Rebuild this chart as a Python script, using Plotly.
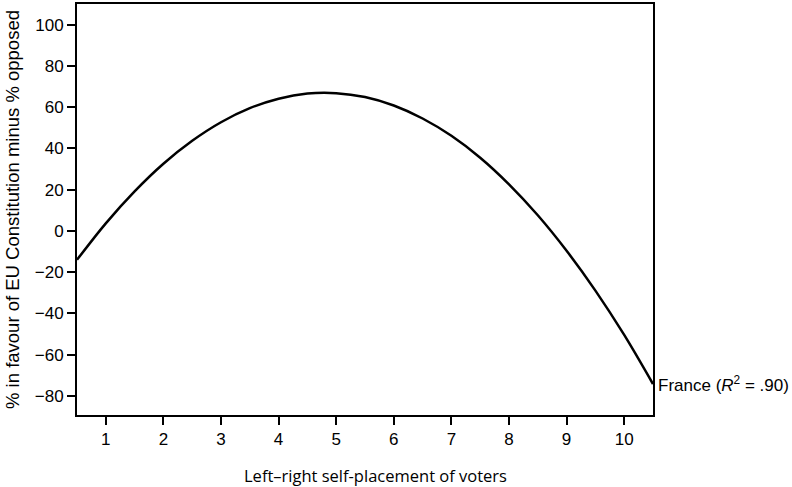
import plotly.graph_objects as go

# Left-right self-placement (x) and % in favour minus % opposed (y)
x_vals = [0.5, 1, 1.5, 2, 2.5, 3, 3.5, 4, 4.5, 5, 5.5, 6, 6.5, 7, 7.5, 8, 8.5, 9, 9.5, 10, 10.5]
y_vals = [-14.0, 3.7, 19.2, 32.6, 43.7, 52.7, 59.5, 64.1, 66.6, 66.8, 64.9, 60.8, 54.5,
          46.1, 35.5, 22.6, 7.6, -9.6, -28.9, -50.4, -74.2]

x_ticks = [1, 2, 3, 4, 5, 6, 7, 8, 9, 10]
y_ticks = [-80, -60, -40, -20, 0, 20, 40, 60, 80, 100]

series_label = "France (<i>R</i><sup>2</sup> = .90)"
x_title = "Left–right self-placement of voters"
y_title = "% in favour of EU Constitution minus % opposed"

fig = go.Figure()
fig.add_trace(go.Scatter(
    x=x_vals, y=y_vals, mode="lines",
    line=dict(color="black", width=2.5, shape="spline", smoothing=1.0),
    showlegend=False, hoverinfo="skip",
))

fig.add_annotation(
    x=x_vals[-1], y=y_vals[-1], xref="x", yref="y",
    text=series_label, showarrow=False, xanchor="left", yanchor="middle",
    xshift=3, font=dict(family="Liberation Sans Narrow, Liberation Sans, Arial", size=17, color="black"),
)

# x-axis title, placed slightly right of centre as in the original
fig.add_annotation(
    x=0.519, y=0, xref="paper", yref="paper",
    text=x_title, showarrow=False, xanchor="center", yanchor="middle",
    yshift=-60, font=dict(family="Open Sans, Noto Sans", size=16.5, color="black"),
)

fig.update_layout(
    width=792, height=487,
    margin=dict(l=77, r=139, t=4, b=72, autoexpand=False),
    paper_bgcolor="white", plot_bgcolor="white",
    font=dict(family="Liberation Sans, Arial", color="black"),
)

fig.update_xaxes(
    range=[0.5, 10.5], tickvals=x_ticks, ticktext=[str(v) for v in x_ticks],
    showgrid=False, zeroline=False, automargin=False,
    showline=True, linecolor="black", linewidth=2, mirror=True,
    ticks="outside", ticklen=8, tickwidth=2, tickcolor="black",
    tickfont=dict(family="Liberation Sans, Arial", size=17, color="black"),
)
fig.update_yaxes(
    range=[-89.2, 110], tickvals=y_ticks, ticktext=[str(v) if v >= 0 else "\u2212" + str(-v) for v in y_ticks],
    showgrid=False, zeroline=False, automargin=False,
    showline=True, linecolor="black", linewidth=2, mirror=True,
    ticks="outside", ticklen=8, tickwidth=2, tickcolor="black",
    tickfont=dict(family="Liberation Sans, Arial", size=17, color="black"),
    title=dict(text=y_title, standoff=10,
               font=dict(family="Liberation Sans, Arial", size=18.5, color="black")),
)

fig.write_html("out.html", config={"displayModeBar": False},
               post_script="document.body.style.margin='0';document.body.style.padding='0';")
